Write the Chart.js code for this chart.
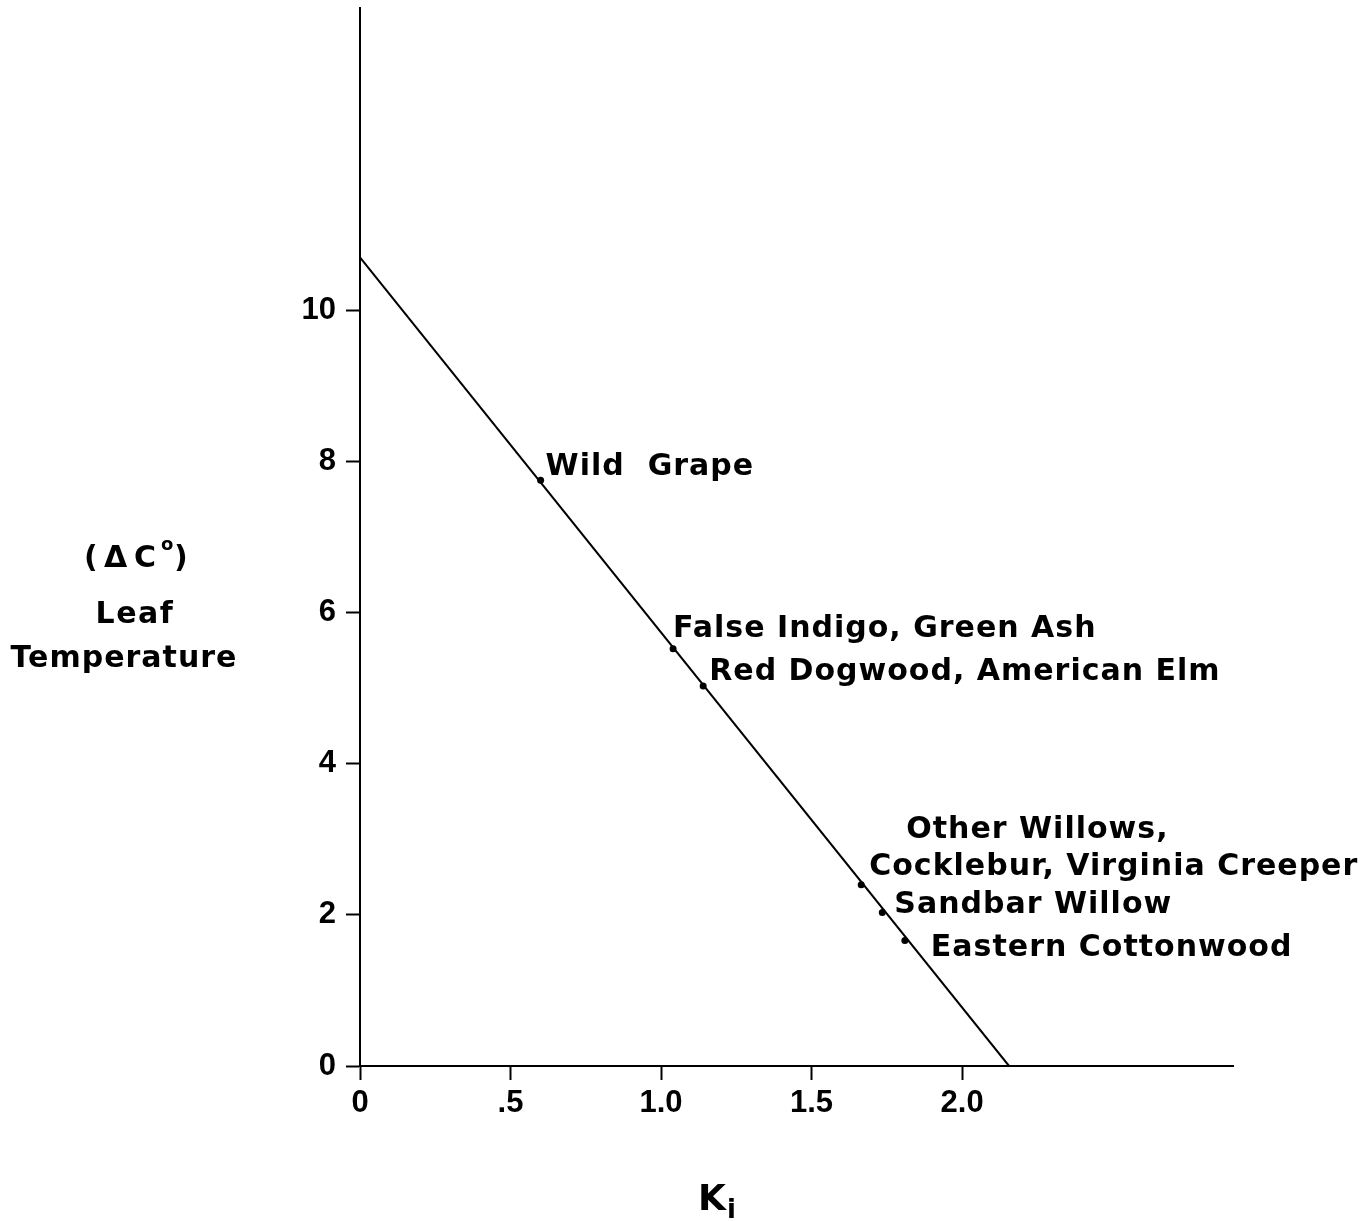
<!DOCTYPE html>
<html>
<head>
<meta charset="utf-8">
<title>Leaf temperature vs Ki</title>
<script src="https://cdn.jsdelivr.net/npm/chart.js@4.4.1/dist/chart.umd.min.js"></script>
<style>
  html, body { margin: 0; padding: 0; background: #fff; }
  canvas { display: block; }
</style>
</head>
<body>
<canvas id="myChart" width="1369" height="1221"></canvas>
<script>
// species
const species = ['Wild  Grape', 'False Indigo, Green Ash', 'Red Dogwood, American Elm',
  'Other Willows,|Cocklebur, Virginia Creeper', 'Sandbar Willow', 'Eastern Cottonwood'];
const kiValues = [0.60, 1.04, 1.14, 1.665, 1.735, 1.81];
const tempValues = [7.75, 5.52, 5.03, 2.40, 2.03, 1.66];

// fitted line end points
const lineKi = [0, 2.156];
const lineTemp = [10.7, 0];

const xTicks = [0, 0.5, 1.0, 1.5, 2.0];
const xTickLabels = ['0', '.5', '1.0', '1.5', '2.0'];
const yTicks = [0, 2, 4, 6, 8, 10];

// label offsets from each dot (pixels): [dx, dy] per text line
const labelOffsets = [
  [[5, -5]],
  [[0, -12]],
  [[6, -6]],
  [[45, -47], [8, -10]],
  [[12, 0]],
  [[26, 15]]
];

const textFont = 'bold 30px "DejaVu Sans"';

const textPlugin = {
  id: 'textPlugin',
  afterDatasetsDraw(chart) {
    const ctx = chart.ctx;
    const meta = chart.getDatasetMeta(1);
    ctx.save();
    ctx.fillStyle = '#000';
    ctx.font = textFont;
    ctx.letterSpacing = '1px';
    ctx.textAlign = 'left';
    ctx.textBaseline = 'alphabetic';
    meta.data.forEach((pt, i) => {
      const lines = species[i].split('|');
      lines.forEach((txt, j) => {
        const off = labelOffsets[i][j];
        ctx.fillText(txt, pt.x + off[0], pt.y + off[1]);
      });
    });

    // y axis title, written horizontally
    ctx.letterSpacing = '1.5px';
    ctx.textAlign = 'left';
    ctx.font = 'bold 30px "DejaVu Sans"';
    ctx.fillText('(', 84, 567);
    ctx.fillText('\u0394', 104, 567);
    ctx.fillText('C', 134, 567);
    ctx.font = 'bold 18px "DejaVu Sans"';
    ctx.fillText('o', 161, 550);
    ctx.font = 'bold 30px "DejaVu Sans"';
    ctx.fillText(')', 174, 567);
    ctx.textAlign = 'center';
    ctx.fillText('Leaf', 135, 623);
    ctx.letterSpacing = '1px';
    ctx.fillText('Temperature', 124, 667);

    // x axis title K with subscript i
    ctx.letterSpacing = '0px';
    ctx.textAlign = 'left';
    ctx.font = 'bold 36px "DejaVu Sans"';
    ctx.fillText('K', 698, 1210);
    ctx.font = 'bold 26px "DejaVu Sans"';
    ctx.fillText('i', 727, 1218);
    ctx.restore();
  }
};

const data = {
  datasets: [{
    label: 'line',
    data: lineKi.map((k, i) => ({ x: k, y: lineTemp[i] })),
    showLine: true,
    borderColor: '#000',
    borderWidth: 2,
    pointRadius: 0,
    fill: false
  }, {
    label: 'species',
    data: kiValues.map((k, i) => ({ x: k, y: tempValues[i] })),
    showLine: false,
    pointRadius: 3.5,
    pointBackgroundColor: '#000',
    pointBorderColor: '#000',
    pointBorderWidth: 0
  }]
};

const config = {
  type: 'scatter',
  data: data,
  options: {
    responsive: false,
    animation: false,
    events: [],
    layout: {
      padding: { left: 0, top: 8, right: 136, bottom: 0 }
    },
    plugins: {
      legend: { display: false },
      tooltip: { enabled: false },
      title: { display: false }
    },
    scales: {
      x: {
        type: 'linear',
        min: 0,
        max: 2.9,
        afterBuildTicks: function (scale) {
          scale.ticks = xTicks.map(v => ({ value: v }));
        },
        afterFit: function (scale) {
          scale.height = 155;
          scale.paddingLeft = 0;
          scale.paddingRight = 0;
        },
        grid: {
          drawOnChartArea: false,
          drawTicks: true,
          tickLength: 14,
          tickColor: '#000',
          tickWidth: 2
        },
        border: { display: true, color: '#000', width: 2 },
        ticks: {
          color: '#000',
          padding: 5,
          maxRotation: 0,
          autoSkip: false,
          font: { family: 'Liberation Sans', size: 31, weight: 'bold' },
          callback: function (value) {
            const i = xTicks.indexOf(value);
            return i >= 0 ? xTickLabels[i] : '';
          }
        }
      },
      y: {
        type: 'linear',
        min: 0,
        max: 14,
        afterBuildTicks: function (scale) {
          scale.ticks = yTicks.map(v => ({ value: v }));
        },
        afterFit: function (scale) {
          scale.width = 360;
          scale.paddingTop = 0;
          scale.paddingBottom = 0;
        },
        grid: {
          drawOnChartArea: false,
          drawTicks: true,
          tickLength: 14,
          tickColor: '#000',
          tickWidth: 2
        },
        border: { display: true, color: '#000', width: 2 },
        ticks: {
          color: '#000',
          padding: 10,
          autoSkip: false,
          font: { family: 'Liberation Sans', size: 31, weight: 'bold' }
        }
      }
    }
  },
  plugins: [textPlugin]
};

const myChart = new Chart(document.getElementById('myChart'), config);
</script>
</body>
</html>
